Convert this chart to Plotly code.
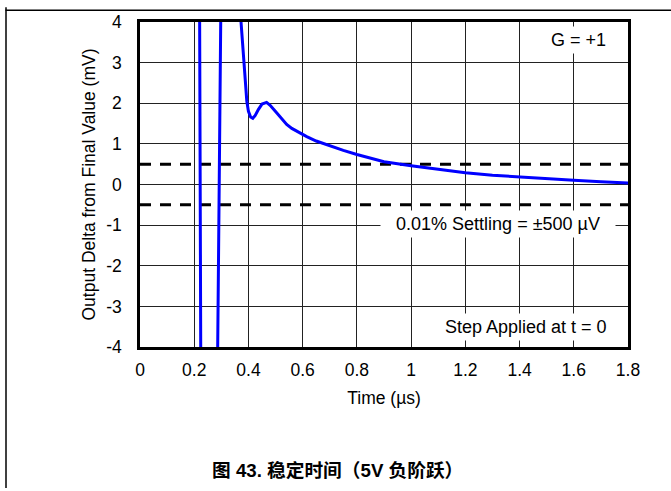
import plotly.graph_objects as go

# ---- data ----
time_us = [0.2195, 0.2245, 0.250, 0.2852, 0.2991, 0.330, 0.3726, 0.378, 0.384, 0.389, 0.394,
           0.400, 0.408, 0.416, 0.425, 0.437, 0.450, 0.467, 0.480, 0.500, 0.520, 0.541,
           0.560, 0.594, 0.615, 0.650, 0.700, 0.750, 0.800, 0.850, 0.900, 1.000, 1.100,
           1.200, 1.300, 1.400, 1.500, 1.600, 1.700, 1.800]
delta_mv = [5.0, -5.0, -40.0, -5.0, 5.0, 20.0, 4.0, 3.5, 3.0, 2.5, 2.05,
            1.80, 1.66, 1.63, 1.70, 1.85, 1.98, 2.02, 1.95, 1.80, 1.63, 1.48,
            1.38, 1.25, 1.18, 1.07, 0.95, 0.84, 0.74, 0.65, 0.56, 0.46, 0.37,
            0.29, 0.23, 0.185, 0.145, 0.105, 0.07, 0.04]
settling_band_mv = 0.5
x_ticks = [0, 0.2, 0.4, 0.6, 0.8, 1.0, 1.2, 1.4, 1.6, 1.8]
x_tick_labels = ["0", "0.2", "0.4", "0.6", "0.8", "1", "1.2", "1.4", "1.6", "1.8"]
y_ticks = [-4, -3, -2, -1, 0, 1, 2, 3, 4]
y_tick_labels = ["-4", "-3", "-2", "-1", "0", "1", "2", "3", "4"]
x_range = [0, 1.8]
y_range = [-4, 4]

FONT = "Liberation Sans, Arial, sans-serif"
W, H = 671, 491
L, R, T, B = 140, 628, 15, 347

fig = go.Figure()
for lvl in (settling_band_mv, -settling_band_mv):
    fig.add_trace(go.Scatter(x=x_range, y=[lvl, lvl], mode="lines",
                             line=dict(color="black", width=3, dash="11px,9px"),
                             hoverinfo="skip", showlegend=False))
fig.add_trace(go.Scatter(x=time_us, y=delta_mv, mode="lines",
                         line=dict(color="#0000FF", width=3),
                         showlegend=False))

def px2paper_x(px):
    return (px - L) / (R - L)

def px2paper_y(py):
    return (B - py) / (B - T)

# page frame (left and top edges visible)
fig.add_shape(type="line", xref="paper", yref="paper",
              x0=px2paper_x(6), x1=px2paper_x(6), y0=px2paper_y(0), y1=px2paper_y(491),
              line=dict(color="black", width=1.5))
fig.add_shape(type="line", xref="paper", yref="paper",
              x0=px2paper_x(5.5), x1=px2paper_x(671), y0=px2paper_y(3), y1=px2paper_y(3),
              line=dict(color="black", width=1.5))

ann_font = dict(family=FONT, size=18, color="black")
fig.add_annotation(text="G = +1", xref="paper", yref="paper",
                   x=px2paper_x(610), y=px2paper_y(33), xanchor="right", yanchor="middle",
                   showarrow=False, font=ann_font, bgcolor="white", borderpad=3)
fig.add_annotation(text="0.01% Settling = ±500 µV", xref="paper", yref="paper",
                   x=px2paper_x(498), y=px2paper_y(221), xanchor="center", yanchor="middle",
                   showarrow=False, font=ann_font, bgcolor="white", borderpad=3, width=228)
fig.add_annotation(text="Step Applied at t = 0", xref="paper", yref="paper",
                   x=px2paper_x(611), y=px2paper_y(327), xanchor="right", yanchor="middle",
                   showarrow=False, font=ann_font, bgcolor="white", borderpad=3)
fig.add_annotation(text="<b>图 43. 稳定时间（5V 负阶跃）</b>", xref="paper", yref="paper",
                   x=px2paper_x(337), y=px2paper_y(473), xanchor="center", yanchor="middle",
                   showarrow=False,
                   font=dict(family="Liberation Sans, Noto Sans CJK SC, sans-serif", size=18.7, color="black"))

fig.update_layout(
    width=W, height=H,
    margin=dict(l=L, r=W - R, t=T, b=H - B),
    plot_bgcolor="white", paper_bgcolor="white",
    font=dict(family=FONT, size=17.5, color="black"),
    xaxis=dict(range=x_range, tickvals=x_ticks, ticktext=x_tick_labels,
               showgrid=True, gridcolor="#222", gridwidth=1,
               showline=True, linecolor="black", linewidth=2.5, mirror=True,
               ticks="", ticklabelstandoff=5, zeroline=False,
               title=dict(text="Time (µs)", standoff=13, font=dict(size=17.5))),
    yaxis=dict(range=y_range, tickvals=y_ticks, ticktext=y_tick_labels,
               showgrid=True, gridcolor="#222", gridwidth=1,
               showline=True, linecolor="black", linewidth=2.5, mirror=True,
               ticks="", ticklabelstandoff=12, zeroline=False,
               title=dict(text="Output Delta from Final Value (mV)", standoff=7, font=dict(size=17.5))),
)

fig.write_html("out.html", config={"displayModeBar": False},
               post_script="document.body.style.margin='0';document.body.style.overflow='hidden';")
